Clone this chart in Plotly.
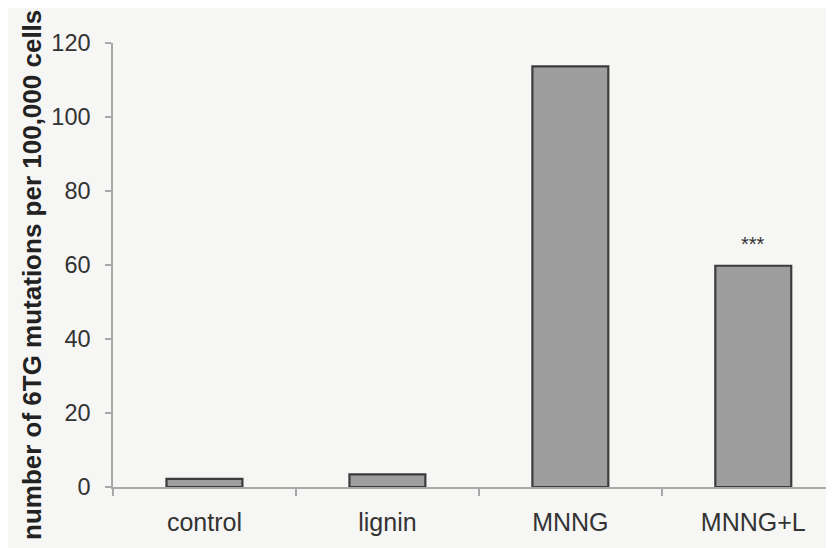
import plotly.graph_objects as go

categories = ["control", "lignin", "MNNG", "MNNG+L"]
values = [2.2, 3.4, 113.7, 59.8]
y_ticks = [0, 20, 40, 60, 80, 100, 120]
significance = ["", "", "", "***"]
sig_level = [None, None, None, 65.8]

W, H = 834, 548
L, R, T, B = 105, 0, 35, 69

fig = go.Figure()
fig.add_trace(go.Bar(
    x=categories, y=values, width=0.415,
    marker=dict(color="#9e9e9e", line=dict(color="#3c3c3c", width=2.2)),
    showlegend=False, hoverinfo="skip",
))

for c, s, lv in zip(categories, significance, sig_level):
    if s:
        fig.add_annotation(x=c, y=lv, text=s, showarrow=False, yanchor="middle",
                           font=dict(family="Liberation Sans, Arial", size=20, color="#333333"))

fig.add_annotation(xref="paper", yref="paper", x=(24 - L) / (W - L - R), y=(H - B - 267) / (H - T - B),
                   text="<b>number of 6TG mutations per 100,000 cells</b>", textangle=-90,
                   showarrow=False, xanchor="center", yanchor="middle",
                   font=dict(family="Liberation Sans, Arial", size=26, color="#222222"))

fig.update_layout(
    width=W, height=H,
    margin=dict(l=L, r=R, t=T, b=B, pad=0, autoexpand=False),
    paper_bgcolor="#f6f6f4", plot_bgcolor="#f6f6f4",
    font=dict(family="Liberation Sans, Arial", color="#333333"),
)
fig.update_xaxes(
    type="category", range=[-0.5, 3.485], automargin=False,
    showline=True, linecolor="#a8a8a8", linewidth=1.5,
    ticks="outside", tickson="boundaries", ticklen=7, tickcolor="#a8a8a8", tickwidth=1.5,
    showgrid=False, zeroline=False, ticklabelstandoff=12,
    tickfont=dict(size=25, color="#333333"),
)
fig.update_yaxes(
    range=[0, 120], tickvals=y_ticks, automargin=False,
    showline=True, linecolor="#a8a8a8", linewidth=1.5,
    ticks="outside", ticklen=6, tickcolor="#a8a8a8", tickwidth=1.5,
    showgrid=False, zeroline=False, ticklabelstandoff=10,
    tickfont=dict(size=23.5, color="#333333"),
)

fig.write_html("out.html")
